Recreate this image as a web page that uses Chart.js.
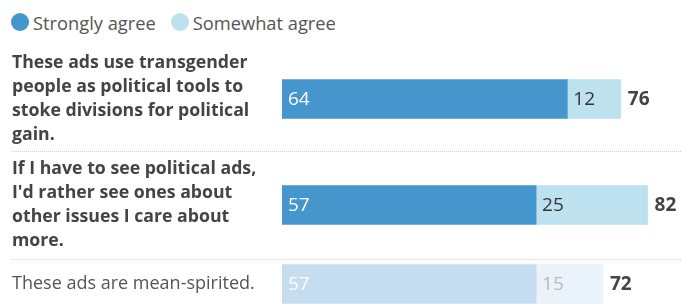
<!DOCTYPE html>
<html>
<head>
<meta charset="utf-8">
<script src="https://cdn.jsdelivr.net/npm/chart.js@4.4.1/dist/chart.umd.min.js"></script>
<style>
  body { margin: 0; width: 681px; height: 304px; overflow: hidden; background: #fff; font-family: "Open Sans", sans-serif; }
  #legend { height: 44px; display: flex; align-items: center; padding-left: 11px; color: #555; font-size: 18.3px; }
  .item { display: flex; align-items: center; margin-right: 15px; }
  .dot { width: 18px; height: 18px; border-radius: 50%; margin-right: 4px; }
  .row { position: relative; width: 681px; }
</style>
</head>
<body>
<div id="legend"></div>
<div class="row" style="height:107px"><canvas id="c0"></canvas></div>
<div class="row" style="height:108px"><canvas id="c1"></canvas></div>
<div class="row" style="height:50px"><canvas id="c2"></canvas></div>
<script>
// Data
const categories = [
  ['These ads use transgender', 'people as political tools to', 'stoke divisions for political', 'gain.'],
  ['If I have to see political ads,', "I'd rather see ones about", 'other issues I care about', 'more.'],
  ['These ads are mean-spirited.']
];
const seriesNames = ['Strongly agree', 'Somewhat agree'];
const stronglyAgree = [64, 57, 57];
const somewhatAgree = [12, 25, 15];
const totals = [76, 82, 72];

// Styles
const colors = ['#4596cd', '#bee1f0'];
const fadedColors = ['#c6dcef', '#eaf3f9'];
const FONT = '"Open Sans", sans-serif';

// Legend
const legend = document.getElementById('legend');
seriesNames.forEach((name, i) => {
  const item = document.createElement('div');
  item.className = 'item';
  item.innerHTML = `<span class="dot" style="background:${colors[i]}"></span><span>${name}</span>`;
  legend.appendChild(item);
});

// Value labels inside bars + total to the right
const valueLabels = {
  id: 'valueLabels',
  afterDatasetsDraw(chart, args, opts) {
    const ctx = chart.ctx;
    ctx.save();
    ctx.textBaseline = 'middle';
    ctx.textAlign = 'left';
    chart.data.datasets.forEach((ds, di) => {
      const meta = chart.getDatasetMeta(di);
      meta.data.forEach((bar, i) => {
        ctx.font = `19px ${FONT}`;
        ctx.fillStyle = opts.valueColors[di];
        ctx.fillText(ds.data[i], Math.min(bar.base, bar.x) + 6, bar.y + 1);
        if (di === chart.data.datasets.length - 1) {
          ctx.font = `bold 19px ${FONT}`;
          ctx.fillStyle = '#444';
          ctx.fillText(opts.total, bar.x + 7, bar.y + 1);
        }
      });
    });
    ctx.restore();
  }
};

// Dotted separator at the top of rows after the first
const separator = {
  id: 'separator',
  afterDraw(chart, args, opts) {
    if (!opts.show) return;
    const ctx = chart.ctx;
    ctx.save();
    ctx.strokeStyle = '#cfcfcf';
    ctx.lineWidth = 1;
    ctx.setLineDash([1, 1]);
    ctx.beginPath();
    ctx.moveTo(12, 0.5);
    ctx.lineTo(chart.width, 0.5);
    ctx.stroke();
    ctx.restore();
  }
};

categories.forEach((label, i) => {
  const faded = i === 2;
  const fill = faded ? fadedColors : colors;
  new Chart(document.getElementById('c' + i), {
    type: 'bar',
    data: {
      labels: [label],
      datasets: [
        { label: seriesNames[0], data: [stronglyAgree[i]], backgroundColor: fill[0] },
        { label: seriesNames[1], data: [somewhatAgree[i]], backgroundColor: fill[1] }
      ]
    },
    options: {
      indexAxis: 'y',
      responsive: true,
      maintainAspectRatio: false,
      animation: false,
      layout: { padding: { left: 12, right: 0, top: i === 0 ? 3 : 0, bottom: 0 } },
      datasets: { bar: { barThickness: 39, borderWidth: 0 } },
      scales: {
        x: { stacked: true, display: false, min: 0, max: 89.5 },
        y: {
          stacked: true,
          grid: { display: false },
          border: { display: false },
          afterFit: (scale) => {
            scale.width = 270;
            scale.paddingTop = 0;
            scale.paddingBottom = 0;
          },
          ticks: {
            crossAlign: 'far',
            color: faded ? '#555' : '#444',
            font: { family: FONT, size: faded ? 18 : 17.7, weight: faded ? 'normal' : 'bold', lineHeight: '24px' }
          }
        }
      },
      plugins: {
        legend: { display: false },
        tooltip: { enabled: false },
        valueLabels: { total: totals[i], valueColors: faded ? ['#fff', '#bbb'] : ['#fff', '#333'] },
        separator: { show: i > 0 }
      }
    },
    plugins: [valueLabels, separator]
  });
});
</script>
</body>
</html>
